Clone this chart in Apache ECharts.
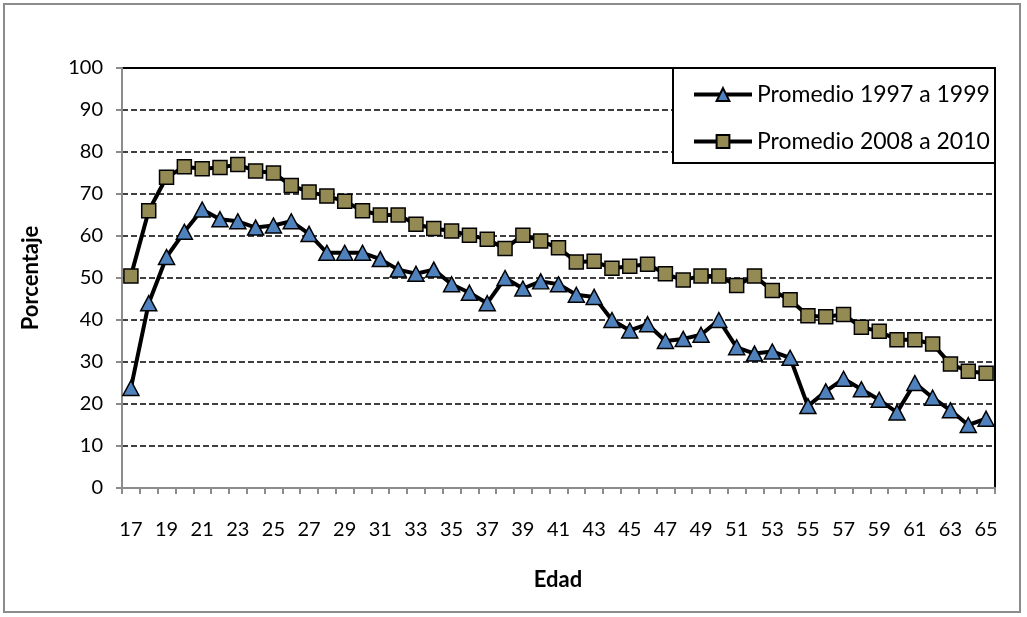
<!DOCTYPE html>
<html>
<head>
<meta charset="utf-8">
<script src="https://cdn.jsdelivr.net/npm/echarts@6/dist/echarts.min.js"></script>
<style>
html,body{margin:0;padding:0;background:#fff;}
#chart{width:1027px;height:617px;}
</style>
</head>
<body>
<div id="chart"></div>
<script>
var ages = [17,18,19,20,21,22,23,24,25,26,27,28,29,30,31,32,33,34,35,36,37,38,39,40,41,42,43,44,45,46,47,48,49,50,51,52,53,54,55,56,57,58,59,60,61,62,63,64,65];
var serie1997 = [23.8,44,55,61,66.3,64,63.5,62,62.5,63.5,60.5,56,56,56,54.5,52,51,52,48.5,46.5,44,50,47.5,49.2,48.5,46,45.5,40,37.5,39,35,35.5,36.5,40,33.5,32,32.5,31,19.5,23,26,23.5,21,18,25,21.5,18.5,15,16.5];
var serie2008 = [50.5,66,74,76.5,76,76.3,77,75.5,75,72,70.5,69.5,68.3,66,65,65,62.8,61.8,61.2,60.2,59.2,57,60.2,58.8,57.2,53.8,54,52.3,52.8,53.3,51,49.5,50.5,50.5,48.2,50.5,47,44.8,41,40.8,41.3,38.3,37.3,35.3,35.3,34.3,29.5,27.8,27.3];
var seriesNames = ['Promedio 1997 a 1999','Promedio 2008 a 2010'];
var yTicks = [0,10,20,30,40,50,60,70,80,90,100];

var FONT = 'Lato, "Open Sans", sans-serif';
var chart = echarts.init(document.getElementById('chart'));
chart.setOption({
  animation: false,
  backgroundColor: '#fff',
  textStyle: {fontFamily: FONT},
  graphic: [
    {type:'rect', shape:{x:4,y:4,width:1016,height:608}, style:{fill:'none', stroke:'#8c8c8c', lineWidth:2}, z:0, silent:true},
    {type:'rect', shape:{x:673,y:68,width:322,height:95}, style:{fill:'#fff', stroke:'#000', lineWidth:2}, z:10, silent:true},
    {type:'text', rotation:Math.PI/2, style:{text:'Porcentaje', font:'bold 22px '+FONT, fill:'#000', textAlign:'center', textVerticalAlign:'middle'}, x:31, y:278, z:5},
    {type:'text', style:{text:'Edad', font:'bold 22px '+FONT, fill:'#000', textAlign:'center', textVerticalAlign:'middle', x:558, y:580}, z:5}
  ],
  grid: {left:122, top:68, right:32, bottom:129, show:true, borderColor:'#000', borderWidth:2, backgroundColor:'transparent'},
  legend: {
    orient:'vertical', left:687, top:78, itemWidth:58, itemHeight:16, itemGap:24, z:20,
    textStyle:{fontSize:23, fontFamily:FONT, color:'#000', lineHeight:23},
    lineStyle:{color:'#000', width:4},
    data: seriesNames
  },
  xAxis: {
    type:'category', data: ages, boundaryGap:true,
    axisLine:{show:true, lineStyle:{color:'#8c8c8c', width:2}},
    axisTick:{show:true, interval:0, length:6, lineStyle:{color:'#8c8c8c', width:2}},
    axisLabel:{interval:1, margin:32, fontSize:20, color:'#000', fontFamily:FONT},
    splitLine:{show:false}
  },
  yAxis: {
    type:'value', min:0, max:100, interval:10,
    axisLine:{show:true, lineStyle:{color:'#8c8c8c', width:2}},
    axisTick:{show:true, length:6, lineStyle:{color:'#8c8c8c', width:2}},
    axisLabel:{margin:19, fontSize:20, color:'#000', fontFamily:FONT,
      formatter:function(v){return yTicks.indexOf(v)>=0 ? String(v) : '';}},
    splitLine:{show:true, lineStyle:{color:'#000', width:1.5, type:[6,3]}}
  },
  series: [
    {name:seriesNames[0], type:'line', data:serie1997, symbol:'triangle', symbolSize:[16,15], showAllSymbol:true,
     lineStyle:{color:'#000', width:4}, itemStyle:{color:'#4f81bd', borderColor:'#000', borderWidth:1.5}, z:3},
    {name:seriesNames[1], type:'line', data:serie2008, symbol:'rect', symbolSize:14, showAllSymbol:true,
     lineStyle:{color:'#000', width:4}, itemStyle:{color:'#948a54', borderColor:'#000', borderWidth:1.5}, z:3}
  ]
});
</script>
</body>
</html>
